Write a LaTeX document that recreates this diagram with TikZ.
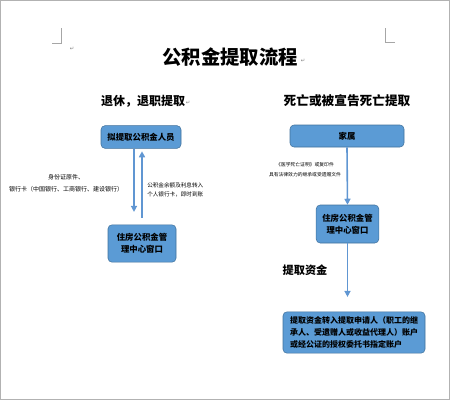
\documentclass[tikz,border=0pt]{standalone}
\usepackage{fontspec}
\newfontfamily\cjk{Noto Sans CJK SC}
\newfontfamily\marksfont{DejaVu Sans}
\usetikzlibrary{positioning,arrows.meta}
\definecolor{boxblue}{RGB}{91,155,213}
\definecolor{boxedge}{RGB}{65,113,156}
\definecolor{arrowblue}{RGB}{96,150,210}

\begin{document}
\begin{tikzpicture}[x=0.75pt,y=-0.75pt,
        flowbox/.style={rectangle,rounded corners=3pt,draw=boxedge,fill=boxblue,
            align=center,inner sep=1pt,font=\cjk\bfseries\fontsize{6.3}{9}\selectfont},
        flowarrow/.style={draw=arrowblue,line width=1.2pt,-{Triangle[length=4.5pt,width=4.5pt]}},
        note/.style={align=center,inner sep=0pt},
        retmark/.style={text=gray,inner sep=0pt,font=\marksfont\fontsize{4}{4}\selectfont}]
        \useasboundingbox (0,0) rectangle (450,400);
        \draw[gray!60] (0.5,0.5) rectangle (449.5,399.5);
        % page corner marks
        \draw[gray!70] (52,43) -- (61,43) -- (61,28);
        \draw[gray!70] (395,42) -- (385,42) -- (385,28);

        % titles
        \node [font=\cjk\bfseries\fontsize{14.5}{16}\selectfont] (title) at (230,57) {公积金提取流程};
        \node [font=\cjk\bfseries\fontsize{9}{10}\selectfont] (retire) at (143,101) {退休，退职提取};
        \node [font=\cjk\bfseries\fontsize{9.5}{10}\selectfont] (death) at (347,101) {死亡或被宣告死亡提取};
        \node [retmark] at (303,61) {↵};
        \node [retmark] at (188,103) {↵};
        \node [retmark] at (72,49) {↵};

        % left column
        \node [flowbox,minimum width=60pt,minimum height=17pt] (apply) at (141,137) {拟提取公积金人员};
        \node [flowbox,minimum width=51pt,minimum height=28pt] (window1) at (142,243.5) {住房公积金管\\理中心窗口};
        \draw [flowarrow,shorten >=9.5pt] ([xshift=-5.25pt]apply.south) -- ([xshift=-6pt]window1.north);
        \draw [flowarrow,shorten <=5pt,shorten >=2pt] (window1.north) -- (window1.north |- apply.south);
        \node [note,font=\cjk\fontsize{4.5}{9}\selectfont] (idcard) at (66,183) {身份证原件、\\银行卡（中国银行、工商银行、建设银行）};
        \node [note,align=left,anchor=west,font=\cjk\fontsize{4.2}{6.75}\selectfont] (transfer) at (147,189.5) {公积金余额及利息转入\\个人银行卡，即时到账};

        % right column
        \node [flowbox,minimum width=85.5pt,minimum height=16.5pt] (family) at (347,136) {家属};
        \node [flowbox,minimum width=47pt,minimum height=28.5pt] (window2) at (347.5,224) {住房公积金管\\理中心窗口};
        \node [flowbox,minimum width=106.5pt,minimum height=31pt,align=left,
            font=\cjk\bfseries\fontsize{6}{9}\selectfont] (payout) at (354,332.5)
            {提取资金转入提取申请人（职工的继\\承人、受遗赠人或收益代理人）账户\\或经公证的授权委托书指定账户};
        \draw [flowarrow] (family.south) -- (window2.north);
        \draw [flowarrow,shorten >=11pt] (window2.south) -- (window2.south |- payout.north);
        \node [note,font=\cjk\fontsize{3.6}{7.5}\selectfont] (papers) at (305,170) {《医学死亡证明》或复印件\\具有法律效力的继承或受遗赠文件};
        \node [font=\cjk\bfseries\fontsize{8.4}{10}\selectfont] (funds) at (305,270) {提取资金};
\end{tikzpicture}
\end{document}
